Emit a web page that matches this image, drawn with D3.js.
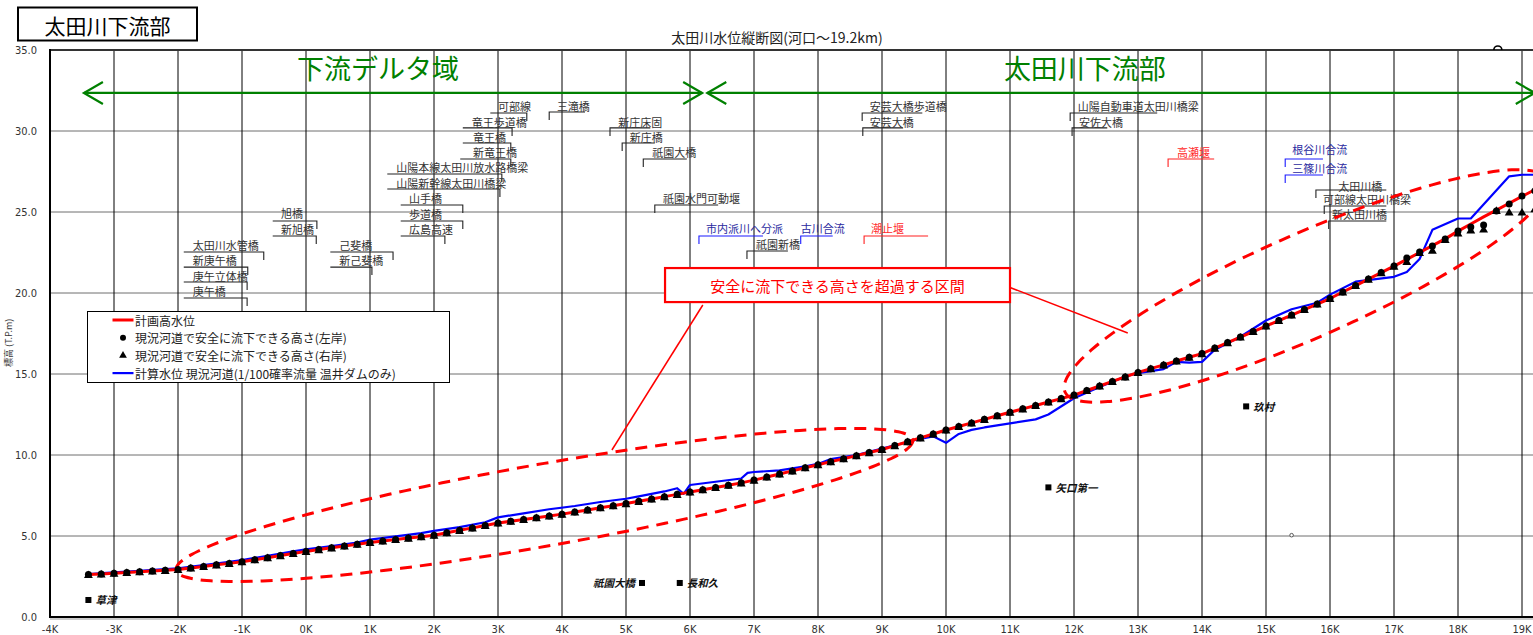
<!DOCTYPE html>
<html>
<head>
<meta charset="utf-8">
<script src="https://cdn.jsdelivr.net/npm/d3@7"></script>
<style>
  body { margin: 0; background: #fff; }
  svg { display: block; font-family: "Noto Sans CJK JP", "Noto Sans", sans-serif; }
  .num { font-family: "Liberation Sans Narrow", "DejaVu Sans Condensed", "Arial Narrow", sans-serif; font-stretch: condensed; }
</style>
</head>
<body>
<svg id="chart" width="1533" height="635"></svg>
<script>
// ---- distance along the river (km from the mouth) ----
const distKm = [-3.4,-3.2,-3.0,-2.8,-2.6,-2.4,-2.2,-2.0,-1.8,-1.6,-1.4,-1.2,-1.0,-0.8,-0.6,-0.4,-0.2,0.0,
  0.2,0.4,0.6,0.8,1.0,1.2,1.4,1.6,1.8,2.0,2.2,2.4,2.6,2.8,3.0,3.2,3.4,3.6,3.8,4.0,4.2,4.4,4.6,4.8,5.0,
  5.2,5.4,5.6,5.8,6.0,6.2,6.4,6.6,6.8,7.0,7.2,7.4,7.6,7.8,8.0,8.2,8.4,8.6,8.8,9.0,9.2,9.4,9.6,9.8,10.0,
  10.2,10.4,10.6,10.8,11.0,11.2,11.4,11.6,11.8,12.0,12.2,12.4,12.6,12.8,13.0,13.2,13.4,13.6,13.8,14.0,
  14.2,14.4,14.6,14.8,15.0,15.2,15.4,15.6,15.8,16.0,16.2,16.4,16.6,16.8,17.0,17.2,17.4,17.6,17.8,18.0,
  18.2,18.4,18.6,18.8,19.0,19.2];

// 計画高水位 (T.P. m)
const planHWL = [2.62,2.66,2.70,2.75,2.79,2.84,2.88,2.93,3.03,3.12,3.22,3.31,3.41,3.53,3.66,3.79,3.92,4.05,
  4.16,4.27,4.38,4.49,4.60,4.69,4.78,4.87,4.96,5.05,5.20,5.35,5.50,5.65,5.80,5.91,6.02,6.13,6.24,6.35,6.48,6.61,6.74,6.87,7.00,
  7.14,7.29,7.43,7.57,7.72,7.86,7.99,8.13,8.28,8.45,8.64,8.83,9.02,9.21,9.40,9.59,9.77,9.96,10.15,10.34,10.58,10.82,11.06,11.30,11.54,
  11.76,11.98,12.20,12.42,12.64,12.85,13.06,13.27,13.48,13.70,13.98,14.26,14.54,14.82,15.10,15.33,15.56,15.80,16.03,16.26,
  16.60,16.94,17.28,17.62,17.96,18.30,18.64,18.98,19.32,19.66,20.06,20.46,20.86,21.26,21.66,22.08,22.50,22.92,23.34,23.82,
  24.26,24.70,25.12,25.54,25.96,26.38];

// 現況河道で安全に流下できる高さ(左岸)
const leftBank = [2.62,2.66,2.70,2.75,2.79,2.84,2.88,2.93,3.03,3.12,3.22,3.31,3.41,3.53,3.66,3.79,3.92,4.05,
  4.16,4.27,4.38,4.49,4.60,4.69,4.78,4.87,4.96,5.05,5.20,5.35,5.50,5.65,5.80,5.91,6.02,6.13,6.24,6.35,6.48,6.61,6.74,6.87,7.00,
  7.14,7.29,7.43,7.57,7.72,7.86,7.99,8.13,8.28,8.45,8.64,8.83,9.02,9.21,9.40,9.59,9.77,9.96,10.15,10.34,10.58,10.82,11.06,11.30,11.54,
  11.76,11.98,12.20,12.42,12.64,12.85,13.06,13.27,13.48,13.70,13.98,14.26,14.54,14.82,15.10,15.33,15.56,15.80,16.03,16.26,
  16.60,16.94,17.28,17.62,17.96,18.30,18.64,18.98,19.32,19.66,20.06,20.46,20.86,21.26,21.66,22.16,22.53,22.90,23.33,23.83,
  24.07,24.20,25.06,25.49,25.99,26.30];

// 現況河道で安全に流下できる高さ(右岸)
const rightBank = [2.62,2.66,2.70,2.75,2.79,2.84,2.88,2.93,3.03,3.12,3.22,3.31,3.41,3.53,3.66,3.79,3.92,4.05,
  4.16,4.27,4.38,4.49,4.60,4.69,4.78,4.87,4.96,5.05,5.20,5.35,5.50,5.65,5.80,5.91,6.02,6.13,6.24,6.35,6.48,6.61,6.74,6.87,7.00,
  7.14,7.29,7.43,7.57,7.72,7.86,7.99,8.13,8.28,8.45,8.64,8.83,9.02,9.21,9.40,9.59,9.77,9.96,10.15,10.34,10.58,10.82,11.06,11.30,11.54,
  11.76,11.98,12.20,12.42,12.64,12.85,13.06,13.27,13.48,13.70,13.98,14.26,14.54,14.82,15.10,15.33,15.56,15.80,16.03,16.26,
  16.60,16.94,17.28,17.62,17.96,18.30,18.64,18.98,19.32,19.66,20.06,20.46,20.86,21.26,21.66,21.95,22.50,22.65,23.30,23.70,
  23.90,23.95,25.10,25.00,25.00,25.20];

// 計算水位 現況河道(1/100確率流量 温井ダムのみ)
const calcKm = [-3.4,-3.0,-2.6,-2.2,-2.0,-1.6,-1.2,-1.0,-0.6,-0.2,0.0,0.4,0.8,1.0,1.4,1.8,2.0,2.4,2.8,3.0,3.4,3.8,
  4.2,4.6,5.0,5.2,5.6,5.8,5.9,6.0,6.4,6.8,6.9,7.0,7.4,7.8,8.0,8.2,8.6,9.0,9.4,9.6,9.8,10.0,10.2,10.4,10.6,11.0,11.4,
  11.6,12.0,12.4,12.8,13.0,13.4,13.6,13.8,14.0,14.2,14.6,15.0,15.4,15.8,16.0,16.4,17.0,17.2,17.4,17.6,18.0,18.2,18.8,19.0,19.2];
const calcWL = [2.65,2.75,2.85,2.95,3.00,3.20,3.40,3.52,3.78,4.05,4.18,4.38,4.60,4.78,4.98,5.18,5.32,5.55,5.85,6.15,6.40,6.65,
  6.85,7.10,7.30,7.45,7.75,7.95,7.60,8.15,8.35,8.55,8.90,8.95,9.05,9.30,9.45,9.75,10.00,10.40,10.80,11.00,11.15,10.75,11.30,11.55,11.70,11.95,12.20,
  12.50,13.50,14.20,14.85,15.05,15.30,15.75,15.70,15.75,16.50,17.30,18.30,19.00,19.40,19.90,20.70,21.00,21.30,22.10,23.90,24.60,24.60,27.20,27.30,27.30];

// axis ticks
const xTickKm = [-4,-3,-2,-1,0,1,2,3,4,5,6,7,8,9,10,11,12,13,14,15,16,17,18,19];
const xTickLabels = ["-4K","-3K","-2K","-1K","0K","1K","2K","3K","4K","5K","6K","7K","8K","9K","10K","11K","12K","13K","14K","15K","16K","17K","18K","19K"];
const yTickVals = [0,5,10,15,20,25,30,35];
const yTickLabels = ["0.0","5.0","10.0","15.0","20.0","25.0","30.0","35.0"];

// bridge / structure labels: name, km of the mark, km of the other end of the bracket, km where text starts, bracket level, text level, kind
const structNames = ["可部線","竜王歩道橋","竜王橋","新竜王橋","山陽本線太田川放水路橋梁","山陽新幹線太田川橋梁","山手橋","歩道橋","広島高速",
  "三滝橋","新庄床固","新庄橋","祇園大橋","祇園水門可動堰","旭橋","新旭橋","太田川水管橋","新庚午橋","庚午立体橋","庚午橋","己斐橋","新己斐橋",
  "安芸大橋歩道橋","安芸大橋","祇園新橋","市内派川へ分派","古川合流","潮止堰","山陽自動車道太田川橋梁","安佐大橋","高瀬堰","根谷川合流","三篠川合流",
  "太田川橋","可部線太田川橋梁","新太田川橋"];
const structKm   = [3.45,3.22,3.20,3.20,3.06,3.03,2.45,2.45,2.17, 3.80,4.75,4.94,5.27,5.45,0.17,0.16,-0.66,-0.91,-0.92,-0.92,1.36,1.03,
  8.69,8.70,6.89,6.14,7.73,8.72,11.94,11.97,13.47,15.30,15.30, 15.78,15.91,15.98];
const bracketEnd = [2.88,2.45,2.45,2.41,1.27,1.27,1.48,1.48,1.48, 4.36,5.38,5.45,5.95,6.44,-0.52,-0.52,-1.91,-1.91,-1.91,-1.91,0.38,0.38,
  9.63,9.33,7.53,7.14,8.23,9.72,13.30,12.52,14.19,15.89,15.89, 16.88,16.88,16.88];
const textKm     = [3.00,2.59,2.61,2.61,1.41,1.41,1.61,1.61,1.61, 3.92,4.88,5.06,5.41,5.58,-0.39,-0.39,-1.77,-1.77,-1.77,-1.77,0.52,0.52,
  8.81,8.81,7.03,6.25,7.73,8.83,12.06,12.08,13.61,15.41,15.41, 16.13,15.89,16.03];
const bracketLv  = [31.11,30.19,29.26,28.27,27.35,26.42,25.43,24.44,23.52, 31.17,30.19,29.26,28.27,25.43,24.44,23.52,22.53,21.60,20.68,19.69,22.53,21.60,
  31.11,30.19,22.59,23.52,23.52,23.52,31.11,30.19,28.27,28.27,27.28, 26.36,25.37,24.44];
const textLv     = [31.54,30.56,29.63,28.70,27.78,26.79,25.86,24.88,23.95, 31.54,30.56,29.63,28.70,25.86,24.94,23.95,22.98,22.04,21.05,20.12,22.98,22.04,
  31.54,30.56,23.02,24.01,24.01,24.01,31.54,30.56,28.70,28.89,27.72, 26.62,25.80,24.88];
const structKind = ["b","b","b","b","b","b","b","b","b", "b","b","b","b","b","b","b","b","b","b","b","b","b",
  "b","b","b","c","c","w","b","b","w","c","c", "b","b","b"];

// gauging stations
const stationNames = ["草津","祇園大橋","長和久","矢口第一","玖村"];
const stationKm    = [-3.4, 5.25, 5.84, 11.6, 14.69];
const stationLv    = [1.05, 2.10, 2.10, 8.00, 13.00];
const stationSide  = ["right","left","right","right","right"];

// reaches where the flood level exceeds the safe capacity (end points km, m)
const zoneA = [[-2.03, 2.90], [9.48, 10.93]];
const zoneB = [[11.86, 13.89], [19.40, 26.98]];

// ---------------------------------------------------------------
const svg = d3.select("#chart");
const x = d3.scaleLinear().domain([-4, 19.3]).range([50, 50 + 23.3 * 64]);
const y = d3.scaleLinear().domain([0, 35]).range([617, 50]);
const W = 1533;

// title box
svg.append("rect").attr("x", 18).attr("y", 7.5).attr("width", 179).attr("height", 33)
  .attr("fill", "#fff").attr("stroke", "#000").attr("stroke-width", 2);
svg.append("text").attr("x", 107.5).attr("y", 25).attr("text-anchor", "middle")
  .attr("dominant-baseline", "central").attr("font-size", 21).attr("fill", "#000").text("太田川下流部");

svg.append("text").attr("x", 777).attr("y", 37).attr("text-anchor", "middle")
  .attr("dominant-baseline", "central").attr("font-size", 14).attr("fill", "#222")
  .text("太田川水位縦断図(河口～19.2km)");

// grid
svg.append("g").selectAll("line").data(yTickVals.filter(v => v > 0 && v < 35)).join("line")
  .attr("x1", x(-4)).attr("x2", W).attr("y1", d => y(d)).attr("y2", d => y(d))
  .attr("stroke", "#6e6e6e").attr("stroke-width", 1);
svg.append("g").selectAll("line").data(xTickKm.filter(v => v > -4)).join("line")
  .attr("x1", d => x(d)).attr("x2", d => x(d)).attr("y1", y(35)).attr("y2", y(0))
  .attr("stroke", "#000").attr("stroke-width", 1);

// frame
svg.append("line").attr("x1", x(-4)).attr("x2", W).attr("y1", y(35)).attr("y2", y(35))
  .attr("stroke", "#333").attr("stroke-width", 2);
svg.append("line").attr("x1", x(-4)).attr("x2", W).attr("y1", y(0) + 2).attr("y2", y(0) + 2)
  .attr("stroke", "#999").attr("stroke-width", 1);
svg.append("line").attr("x1", x(-4)).attr("x2", W).attr("y1", y(0)).attr("y2", y(0))
  .attr("stroke", "#000").attr("stroke-width", 2);
svg.append("line").attr("x1", x(-4)).attr("x2", x(-4)).attr("y1", y(35) - 1).attr("y2", y(0) + 1)
  .attr("stroke", "#000").attr("stroke-width", 2);

// tick labels
svg.append("g").selectAll("text").data(yTickVals).join("text")
  .attr("class", "num").attr("x", 37).attr("y", d => y(d)).attr("text-anchor", "end")
  .attr("dominant-baseline", "central").attr("font-size", 11).attr("fill", "#333")
  .text((d, i) => yTickLabels[i]);
svg.append("g").selectAll("text").data(xTickKm).join("text")
  .attr("class", "num").attr("x", d => x(d)).attr("y", 629).attr("text-anchor", "middle")
  .attr("dominant-baseline", "central").attr("font-size", 11).attr("fill", "#333")
  .text((d, i) => xTickLabels[i]);

svg.append("text").attr("transform", `translate(8,${y(15.2) - 28}) rotate(-90)`)
  .attr("text-anchor", "middle").attr("dominant-baseline", "central")
  .attr("font-size", 9).attr("fill", "#333").text("標高 (T.P.m)");

// reach names and arrows
const green = "#008000";
const arrowLv = 32.35;
function arrowLine(k1, k2) {
  svg.append("line").attr("x1", x(k1)).attr("x2", x(k2)).attr("y1", y(arrowLv)).attr("y2", y(arrowLv))
    .attr("stroke", green).attr("stroke-width", 2.2);
}
function chevron(k, dir) {
  const px = x(k), py = y(arrowLv);
  svg.append("path").attr("d", `M${px + dir * 19},${py - 11}L${px},${py}L${px + dir * 19},${py + 11}`)
    .attr("fill", "none").attr("stroke", green).attr("stroke-width", 2.2);
}
arrowLine(-3.47, 6.19); chevron(-3.47, 1); chevron(6.19, -1);
arrowLine(6.27, 19.2); chevron(6.27, 1); chevron(19.2, -1);
svg.append("text").attr("x", x(1.125)).attr("y", y(33.9)).attr("text-anchor", "middle")
  .attr("dominant-baseline", "central").attr("font-size", 27).attr("fill", green).text("下流デルタ域");
svg.append("text").attr("x", x(12.17)).attr("y", y(33.9)).attr("text-anchor", "middle")
  .attr("dominant-baseline", "central").attr("font-size", 27).attr("fill", green).text("太田川下流部");

// small mark at the top edge
svg.append("path").attr("d", `M${x(18.56)},${y(35)}A4,4 0 0 1 ${x(18.56) + 8},${y(35)}`)
  .attr("fill", "none").attr("stroke", "#000").attr("stroke-width", 1.6);

// structure labels
const kindStroke = { b: "#222", c: "#1a1aff", w: "#ff2020" };
const kindText = { b: "#333", c: "#2a2aa0", w: "#ff2a2a" };
const sg = svg.append("g");
structNames.forEach((name, i) => {
  const k = structKind[i];
  const tx = x(structKm[i]), ly = y(bracketLv[i]);
  sg.append("path")
    .attr("d", `M${x(bracketEnd[i])},${ly}L${tx},${ly}L${tx},${ly + 8}`)
    .attr("fill", "none").attr("stroke", kindStroke[k]).attr("stroke-width", 1.1);
  sg.append("text").attr("x", x(textKm[i])).attr("y", y(textLv[i]))
    .attr("dominant-baseline", "central").attr("font-size", 11).attr("fill", kindText[k]).text(name);
});

// stations
const stg = svg.append("g");
stationNames.forEach((name, i) => {
  const px = x(stationKm[i]), py = y(stationLv[i]);
  stg.append("rect").attr("x", px - 3).attr("y", py - 3).attr("width", 6).attr("height", 6).attr("fill", "#000");
  stg.append("text").attr("x", stationSide[i] === "right" ? px + 7 : px - 7).attr("y", py)
    .attr("text-anchor", stationSide[i] === "right" ? "start" : "end")
    .attr("dominant-baseline", "central").attr("font-size", 10.5).attr("font-weight", "bold")
    .attr("font-style", "italic").attr("fill", "#111").text(name);
});
svg.append("circle").attr("cx", x(15.4)).attr("cy", y(5.05)).attr("r", 1.8)
  .attr("fill", "#fff").attr("stroke", "#333").attr("stroke-width", 0.8);

// data lines
const lineGen = d3.line().x(d => x(d[0])).y(d => y(d[1]));
svg.append("path").datum(calcKm.map((k, i) => [k, calcWL[i]])).attr("d", lineGen)
  .attr("fill", "none").attr("stroke", "#0000ff").attr("stroke-width", 2.2).attr("stroke-linejoin", "round");
svg.append("path").datum(distKm.map((k, i) => [k, planHWL[i]])).attr("d", lineGen)
  .attr("fill", "none").attr("stroke", "#ff0000").attr("stroke-width", 3).attr("stroke-linejoin", "round");

// exceedance zones (dashed ellipses)
function zone(tips, halfW) {
  const p1 = [x(tips[0][0]), y(tips[0][1])], p2 = [x(tips[1][0]), y(tips[1][1])];
  const cx = (p1[0] + p2[0]) / 2, cy = (p1[1] + p2[1]) / 2;
  const a = Math.hypot(p2[0] - p1[0], p2[1] - p1[1]) / 2;
  const th = Math.atan2(p2[1] - p1[1], p2[0] - p1[0]);
  const pts = d3.range(0, 360, 3).map(t => {
    const r = t * Math.PI / 180;
    const u = a * Math.cos(r), v = halfW * Math.sin(r);
    return [cx + u * Math.cos(th) - v * Math.sin(th), cy + u * Math.sin(th) + v * Math.cos(th)];
  });
  svg.append("path").attr("d", d3.line().curve(d3.curveCatmullRomClosed)(pts))
    .attr("fill", "none").attr("stroke", "#ff0000").attr("stroke-width", 3)
    .attr("stroke-dasharray", "12,8");
}
zone(zoneA, 41);
zone(zoneB, 52);

// bank heights
const tri = d3.symbol().type(d3.symbolTriangle).size(34);
svg.append("g").selectAll("path").data(distKm.map((k, i) => [k, rightBank[i]])).join("path")
  .attr("d", tri).attr("transform", d => `translate(${x(d[0])},${y(d[1]) + 1})`).attr("fill", "#000");
svg.append("g").selectAll("circle").data(distKm.map((k, i) => [k, leftBank[i]])).join("circle")
  .attr("cx", d => x(d[0])).attr("cy", d => y(d[1])).attr("r", 3.5).attr("fill", "#000");

// callout
svg.append("line").attr("x1", x(6.20)).attr("y1", y(19.26)).attr("x2", x(4.78)).attr("y2", y(10.31))
  .attr("stroke", "#ff0000").attr("stroke-width", 1.5);
svg.append("line").attr("x1", x(10.98)).attr("y1", y(20.37)).attr("x2", x(12.84)).attr("y2", y(17.53))
  .attr("stroke", "#ff0000").attr("stroke-width", 1.5);
svg.append("rect").attr("x", x(5.61)).attr("y", y(21.54)).attr("width", x(11.0) - x(5.61))
  .attr("height", y(19.44) - y(21.54)).attr("fill", "#fff").attr("stroke", "#ff0000").attr("stroke-width", 2.2);
svg.append("text").attr("x", (x(5.61) + x(11.0)) / 2).attr("y", (y(21.54) + y(19.44)) / 2)
  .attr("text-anchor", "middle").attr("dominant-baseline", "central").attr("font-size", 15)
  .attr("fill", "#ff0000").text("安全に流下できる高さを超過する区間");

// legend
const lg = svg.append("g").attr("transform", "translate(87.5,311.5)");
lg.append("rect").attr("width", 362).attr("height", 71).attr("fill", "#fff").attr("stroke", "#000").attr("stroke-width", 1);
const legendRows = [
  { t: "計画高水位", m: "red" },
  { t: "現況河道で安全に流下できる高さ(左岸)", m: "dot" },
  { t: "現況河道で安全に流下できる高さ(右岸)", m: "tri" },
  { t: "計算水位 現況河道(1/100確率流量 温井ダムのみ)", m: "blue" }
];
legendRows.forEach((r, i) => {
  const yy = 8.5 + i * 17.7;
  if (r.m === "red") lg.append("line").attr("x1", 25).attr("x2", 46).attr("y1", yy).attr("y2", yy).attr("stroke", "#ff0000").attr("stroke-width", 3);
  if (r.m === "blue") lg.append("line").attr("x1", 25).attr("x2", 46).attr("y1", yy).attr("y2", yy).attr("stroke", "#0000ff").attr("stroke-width", 2.2);
  if (r.m === "dot") lg.append("circle").attr("cx", 35.5).attr("cy", yy).attr("r", 3).attr("fill", "#000");
  if (r.m === "tri") lg.append("path").attr("d", d3.symbol().type(d3.symbolTriangle).size(26)).attr("transform", `translate(35.5,${yy})`).attr("fill", "#000");
  lg.append("text").attr("x", 47.5).attr("y", yy).attr("dominant-baseline", "central")
    .attr("font-size", 12).attr("fill", "#222").text(r.t);
});
</script>
</body>
</html>
